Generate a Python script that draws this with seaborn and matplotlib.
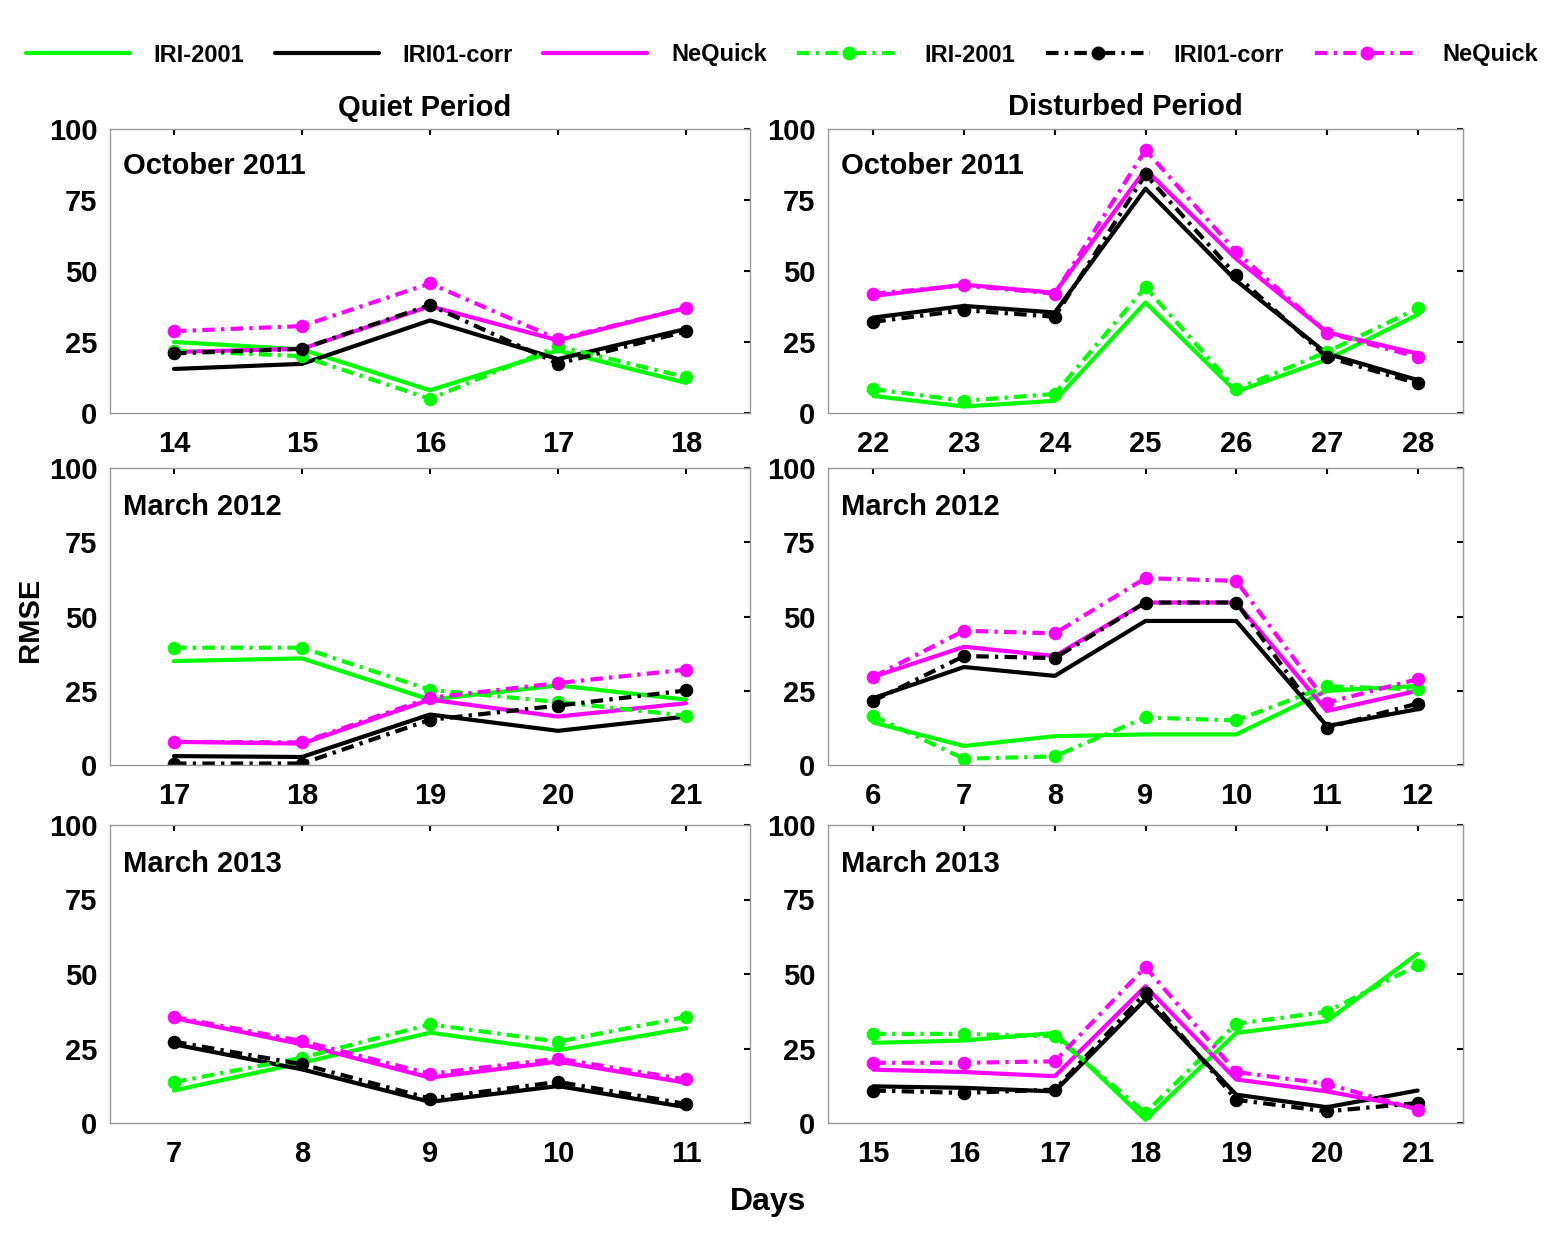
import matplotlib
matplotlib.use("Agg")
import matplotlib.pyplot as plt
import seaborn as sns
from matplotlib.lines import Line2D

# --- dados ---
# Quiet, October 2011
q_oct11_days = [14, 15, 16, 17, 18]
q_oct11_iri = [25, 22.4, 8, 22, 10.6]
q_oct11_corr = [15.5, 17.3, 32.6, 19, 29.6]
q_oct11_neq = [21.5, 22.6, 37.6, 25.6, 37]
q_oct11_iri_d = [22, 20, 5, 23.5, 12.6]
q_oct11_corr_d = [21, 22.6, 38, 17.4, 28.7]
q_oct11_neq_d = [28.8, 30.6, 45.6, 26, 37]

# Disturbed, October 2011
d_oct11_days = [22, 23, 24, 25, 26, 27, 28]
d_oct11_iri = [6, 2.3, 4.3, 38.9, 7.5, 18.8, 34.6]
d_oct11_corr = [33.6, 37.7, 35.4, 79, 46.6, 20.9, 11.6]
d_oct11_neq = [41.2, 45.2, 42.3, 85.8, 54.3, 28.4, 20.9]
d_oct11_iri_d = [8.4, 4.3, 6.7, 44.3, 8.4, 21.5, 36.8]
d_oct11_corr_d = [32.1, 36.2, 33.9, 84, 48.5, 19.7, 10.4]
d_oct11_neq_d = [42, 44.9, 42, 92.6, 56.8, 28.3, 19.7]

# Quiet, March 2012
q_mar12_days = [17, 18, 19, 20, 21]
q_mar12_iri = [35, 35.9, 22, 26.8, 22]
q_mar12_corr = [3, 2.7, 17, 11.5, 16.3]
q_mar12_neq = [7.8, 7.2, 22, 16.3, 20.8]
q_mar12_iri_d = [39.5, 39.5, 25.3, 21.2, 16.6]
q_mar12_corr_d = [0.5, 0.5, 15.2, 20, 25.1]
q_mar12_neq_d = [7.8, 7.6, 22.6, 27.6, 32.1]

# Disturbed, March 2012
d_mar12_days = [6, 7, 8, 9, 10, 11, 12]
d_mar12_iri = [14.3, 6.4, 9.7, 10.3, 10.3, 25, 26.6]
d_mar12_corr = [22.5, 33, 30, 48.5, 48.5, 13.1, 18.8]
d_mar12_neq = [29.7, 39.8, 36.7, 54.7, 54.7, 18.2, 25]
d_mar12_iri_d = [16.5, 2.1, 2.9, 16, 15, 26.5, 25.5]
d_mar12_corr_d = [21.6, 36.7, 36, 54.7, 54.7, 12.6, 20.7]
d_mar12_neq_d = [29.7, 45.2, 44.3, 62.9, 62, 21, 28.9]

# Quiet, March 2013
q_mar13_days = [7, 8, 9, 10, 11]
q_mar13_iri = [10.9, 20.2, 30.3, 24.4, 31.8]
q_mar13_corr = [26.4, 18, 7.1, 12.4, 5.3]
q_mar13_neq = [35.2, 26.4, 15.2, 20.6, 13.5]
q_mar13_iri_d = [13.7, 21.9, 33.1, 27.3, 35.6]
q_mar13_corr_d = [27.3, 19.7, 8.2, 13.8, 6.4]
q_mar13_neq_d = [35.6, 27.5, 16.5, 21.6, 14.6]

# Disturbed, March 2013
d_mar13_days = [15, 16, 17, 18, 19, 20, 21]
d_mar13_iri = [26.9, 27.7, 30.2, 1.1, 30.2, 34.2, 56.8]
d_mar13_corr = [12.3, 11.8, 10.6, 41.5, 9.5, 5.3, 10.9]
d_mar13_neq = [17.9, 17.1, 15.7, 45.9, 14.6, 10.6, 5]
d_mar13_iri_d = [29.9, 29.9, 29.1, 3.4, 33.3, 37.3, 53]
d_mar13_corr_d = [10.9, 10.1, 11.2, 43.7, 7.8, 3.9, 6.7]
d_mar13_neq_d = [20.2, 20.2, 20.7, 52.3, 17.1, 13.1, 4.5]

modelos = ['IRI-2001', 'IRI01-corr', 'NeQuick']
cores = ['#00FF00', '#000000', '#FF00FF']

paineis = [
    (q_oct11_days, [q_oct11_iri, q_oct11_corr, q_oct11_neq], [q_oct11_iri_d, q_oct11_corr_d, q_oct11_neq_d], 'October 2011'),
    (d_oct11_days, [d_oct11_iri, d_oct11_corr, d_oct11_neq], [d_oct11_iri_d, d_oct11_corr_d, d_oct11_neq_d], 'October 2011'),
    (q_mar12_days, [q_mar12_iri, q_mar12_corr, q_mar12_neq], [q_mar12_iri_d, q_mar12_corr_d, q_mar12_neq_d], 'March 2012'),
    (d_mar12_days, [d_mar12_iri, d_mar12_corr, d_mar12_neq], [d_mar12_iri_d, d_mar12_corr_d, d_mar12_neq_d], 'March 2012'),
    (q_mar13_days, [q_mar13_iri, q_mar13_corr, q_mar13_neq], [q_mar13_iri_d, q_mar13_corr_d, q_mar13_neq_d], 'March 2013'),
    (d_mar13_days, [d_mar13_iri, d_mar13_corr, d_mar13_neq], [d_mar13_iri_d, d_mar13_corr_d, d_mar13_neq_d], 'March 2013'),
]

sns.set_style("white")
plt.rcParams['font.family'] = ['Liberation Sans', 'DejaVu Sans']
plt.rcParams['font.weight'] = 'bold'
plt.rcParams['text.color'] = 'black'
plt.rcParams['xtick.color'] = 'black'
plt.rcParams['ytick.color'] = 'black'
plt.rcParams['axes.labelcolor'] = 'black'

traco = (3, 1.5, 0.8, 1.5)  # padrao traco-ponto curto (estilo MATLAB)

W, H = 1550, 1244
fig = plt.figure(figsize=(W / 100, H / 100), dpi=100)

# posicoes dos eixos em pixels
col_x = [(110, 750), (828, 1463)]
row_y = [(129, 413), (468, 765), (825, 1123)]

for i, (dias, solidas, tracejadas, rotulo) in enumerate(paineis):
    r, c = divmod(i, 2)
    x0, x1 = col_x[c]
    y0, y1 = row_y[r]
    ax = fig.add_axes([x0 / W, 1 - y1 / H, (x1 - x0) / W, (y1 - y0) / H])
    for vals, cor in zip(solidas, cores):
        sns.lineplot(x=dias, y=vals, ax=ax, color=cor, linewidth=3, linestyle='-')
    for vals, cor in zip(tracejadas, cores):
        sns.lineplot(x=dias, y=vals, ax=ax, color=cor, linewidth=3, dashes=traco,
                     marker='o', markersize=9, markeredgecolor=cor)
    ax.set_xlim(dias[0] - 0.5, dias[-1] + 0.5)
    ax.set_ylim(0, 100)
    ax.set_xticks(dias)
    ax.set_yticks([0, 25, 50, 75, 100])
    ax.tick_params(axis='both', direction='in', length=4, width=1.5, color='black',
                   labelsize=21, top=True, right=True, pad=9)
    ax.tick_params(axis='x', pad=12)
    for lbl in ax.get_xticklabels() + ax.get_yticklabels():
        lbl.set_fontweight('bold')
    for s in ax.spines.values():
        s.set_color('#999999')
        s.set_linewidth(1)
    ax.text(0.02, 0.87, rotulo, transform=ax.transAxes, fontsize=21, fontweight='bold',
            ha='left', va='center')

fig.text(425 / W, 1 - 108 / H, 'Quiet Period', fontsize=21, fontweight='bold', ha='center', va='center')
fig.text(1125 / W, 1 - 107 / H, 'Disturbed Period', fontsize=21, fontweight='bold', ha='center', va='center')

fig.text(30 / W, 1 - 620 / H, 'RMSE', rotation=90, fontsize=21, fontweight='bold',
         ha='center', va='center')
fig.text(768 / W, 1 - 1202 / H, 'Days', fontsize=23, fontweight='bold', ha='center', va='center')

# legenda no topo
handles = [Line2D([0], [0], color=c, lw=3, ls='-') for c in cores]
handles += [Line2D([0], [0], color=c, lw=3, dashes=traco, marker='o', markersize=9) for c in cores]
labels = modelos + modelos
fig.legend(handles, labels, loc='center', bbox_to_anchor=(782 / W, 1 - 55 / H), ncol=6,
           frameon=False, prop={'size': 17, 'weight': 'bold'}, handlelength=4.4,
           handletextpad=1.0, columnspacing=1.3)

plt.savefig('out.png', dpi=100)
